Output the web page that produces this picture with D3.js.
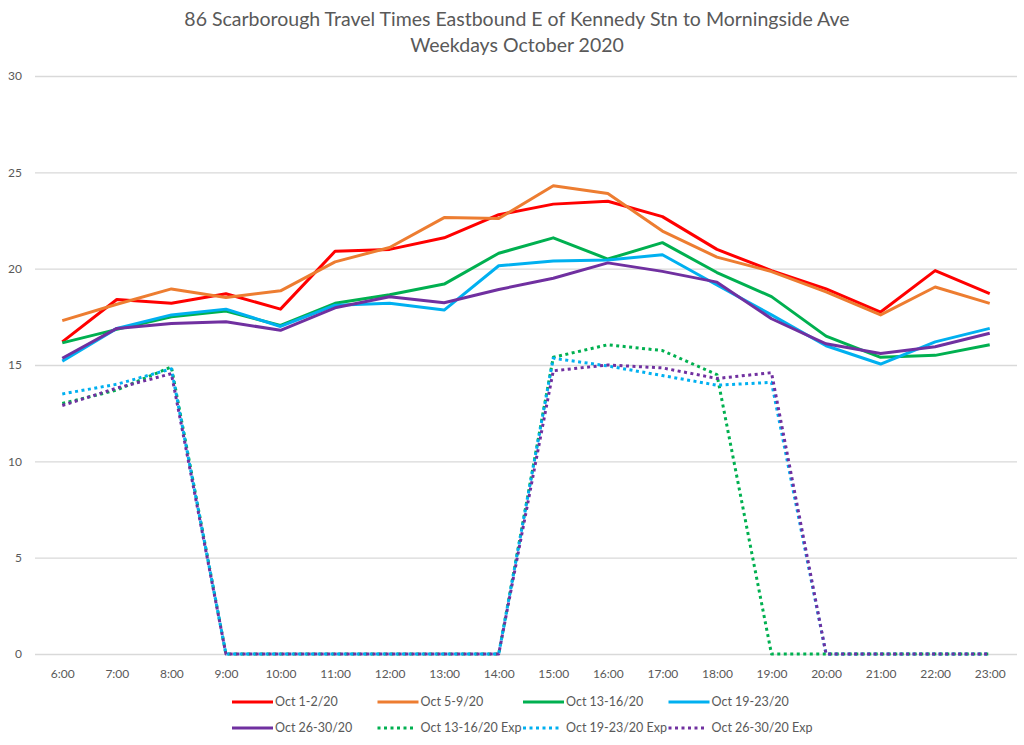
<!DOCTYPE html>
<html>
<head>
<meta charset="utf-8">
<script src="https://cdn.jsdelivr.net/npm/d3@7"></script>
<style>
  body { margin: 0; background: #fff; }
  text { font-family: Lato, "Open Sans", sans-serif; fill: #595959; }
</style>
</head>
<body>
<svg id="chart" width="1024" height="745"></svg>
<script>
// hours on the x axis
const hours = ["6:00", "7:00", "8:00", "9:00", "10:00", "11:00", "12:00", "13:00", "14:00",
    "15:00", "16:00", "17:00", "18:00", "19:00", "20:00", "21:00", "22:00", "23:00"];
const yTicks = [0, 5, 10, 15, 20, 25, 30];

// travel times (minutes)
const oct1_2 = [16.2, 18.4, 18.2, 18.7, 17.9, 20.9, 21.0, 21.6, 22.8, 23.35, 23.5, 22.7, 21.0, 19.9, 18.95, 17.75, 19.9, 18.7];
const oct5_9 = [17.3, 18.15, 18.95, 18.5, 18.85, 20.35, 21.1, 22.65, 22.6, 24.3, 23.9, 21.95, 20.6, 19.85, 18.8, 17.6, 19.05, 18.2];
const oct13_16 = [16.15, 16.85, 17.5, 17.8, 17.05, 18.2, 18.65, 19.2, 20.8, 21.6, 20.5, 21.35, 19.8, 18.55, 16.5, 15.4, 15.5, 16.05];
const oct19_23 = [15.2, 16.9, 17.6, 17.9, 17.0, 18.1, 18.2, 17.85, 20.15, 20.4, 20.45, 20.72, 19.15, 17.6, 16.0, 15.05, 16.2, 16.9];
const oct26_30 = [15.35, 16.9, 17.15, 17.25, 16.8, 17.97, 18.54, 18.23, 18.92, 19.5, 20.3, 19.86, 19.3, 17.4, 16.1, 15.6, 15.95, 16.65];
const oct13_16Exp = [13.0, 13.7, 14.9, 0, 0, 0, 0, 0, 0, 15.4, 16.05, 15.75, 14.5, 0, 0, 0, 0, 0];
const oct19_23Exp = [13.5, 14.0, 14.8, 0, 0, 0, 0, 0, 0, 15.35, 14.95, 14.45, 13.95, 14.1, 0, 0, 0, 0];
const oct26_30Exp = [12.9, 13.8, 14.55, 0, 0, 0, 0, 0, 0, 14.7, 15.0, 14.85, 14.3, 14.6, 0, 0, 0, 0];

const series = [
    {name: "Oct 1-2/20", values: oct1_2, color: "#ff0000", dotted: false},
    {name: "Oct 5-9/20", values: oct5_9, color: "#ed7d31", dotted: false},
    {name: "Oct 13-16/20", values: oct13_16, color: "#00b050", dotted: false},
    {name: "Oct 19-23/20", values: oct19_23, color: "#00b0f0", dotted: false},
    {name: "Oct 26-30/20", values: oct26_30, color: "#7030a0", dotted: false},
    {name: "Oct 13-16/20 Exp", values: oct13_16Exp, color: "#00b050", dotted: true},
    {name: "Oct 19-23/20 Exp", values: oct19_23Exp, color: "#00b0f0", dotted: true},
    {name: "Oct 26-30/20 Exp", values: oct26_30Exp, color: "#7030a0", dotted: true}
];

const svg = d3.select("#chart");
const plotLeft = 35, plotRight = 1017, plotTop = 76, plotBottom = 654;

let x = d3.scalePoint().domain(hours).range([plotLeft, plotRight]).padding(0.5);
let y = d3.scaleLinear().domain([0, 30]).range([plotBottom, plotTop]);

// title
svg.append("text")
    .attr("x", 517).attr("y", 26)
    .attr("text-anchor", "middle")
    .style("font-size", "19.5px")
    .text("86 Scarborough Travel Times Eastbound E of Kennedy Stn to Morningside Ave");
svg.append("text")
    .attr("x", 517).attr("y", 52)
    .attr("text-anchor", "middle")
    .style("font-size", "19.5px")
    .text("Weekdays October 2020");

// gridlines + y labels
let yAxis = svg.append("g")
    .attr("transform", "translate(" + plotLeft + ",0)")
    .call(d3.axisLeft(y).tickValues(yTicks).tickSize(-(plotRight - plotLeft)).tickPadding(13));
yAxis.select(".domain").remove();
yAxis.selectAll("line").attr("stroke", "#d9d9d9").attr("stroke-width", 1.3);
yAxis.selectAll("text").style("font-size", "12px").style("font-family", "Lato, sans-serif").attr("fill", "#595959");

// x labels
let xAxis = svg.append("g")
    .attr("transform", "translate(0," + plotBottom + ")")
    .call(d3.axisBottom(x).tickSize(0).tickPadding(15));
xAxis.select(".domain").remove();
xAxis.selectAll("text").style("font-size", "12px").style("font-family", "Lato, sans-serif").attr("fill", "#595959");

let line = d3.line()
    .x(function(d, i) { return x(hours[i]); })
    .y(function(d) { return y(d); });

// dotted series underneath, solid on top
let order = series.filter(s => s.dotted).concat(series.filter(s => !s.dotted));
svg.append("g").selectAll("path")
    .data(order)
    .enter().append("path")
    .attr("d", function(d) { return line(d.values); })
    .attr("fill", "none")
    .attr("stroke", function(d) { return d.color; })
    .attr("stroke-width", 3)
    .attr("stroke-linejoin", "round")
    .attr("stroke-dasharray", function(d) { return d.dotted ? "3,3.5" : null; });

// legend: two rows of four columns
let legend = svg.append("g").selectAll("g")
    .data(series)
    .enter().append("g")
    .attr("transform", function(d, i) {
        return "translate(" + (232 + (i % 4) * 145.5) + "," + (702 + Math.floor(i / 4) * 26) + ")";
    });
legend.append("line")
    .attr("x1", 0).attr("x2", function(d) { return d.dotted ? 37 : 41; })
    .attr("y1", 0).attr("y2", 0)
    .attr("stroke", function(d) { return d.color; })
    .attr("stroke-width", 3)
    .attr("stroke-dasharray", function(d) { return d.dotted ? "3,3.5" : null; });
legend.append("text")
    .attr("x", 43)
    .attr("y", 0)
    .attr("dy", "0.35em")
    .style("font-size", "12.5px")
    .text(function(d) { return d.name; });
</script>
</body>
</html>
